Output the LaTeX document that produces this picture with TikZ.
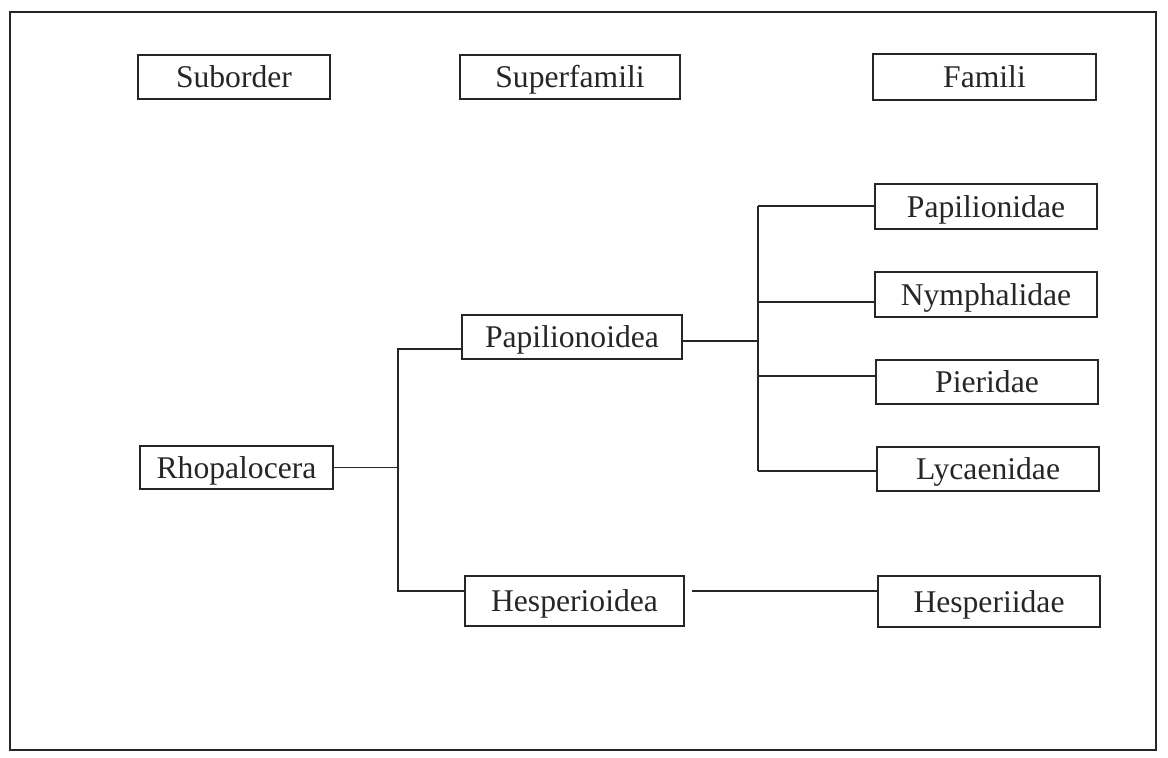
\documentclass[tikz,border=0pt]{standalone}
\usepackage{fontspec}
\setmainfont{Liberation Serif}
\usetikzlibrary{positioning}

\tikzset{
  takson/.style={draw=black!85, line width=1pt, inner sep=0pt, text=black!85,
    font=\fontsize{18}{20}\selectfont, text height=12pt, text depth=0pt},
  garis/.style={draw=black!85, line width=1pt}
}

\begin{document}
\begin{tikzpicture}[x=0.02cm,y=-0.02cm]
  \useasboundingbox (0,0) rectangle (1168,757);
  \draw[garis] (10,12) rectangle (1156,750);

  % judul kolom
  \node[takson, minimum width=3.84cm, minimum height=0.88cm] (suborder) at (234,77) {Suborder};
  \node[takson, minimum width=4.4cm, minimum height=0.88cm] (superfam) at (570,77) {Superfamili};
  \node[takson, minimum width=4.46cm, minimum height=0.92cm] (famili) at (984.5,77) {Famili};

  % suborder dan superfamili
  \node[takson, minimum width=3.86cm, minimum height=0.86cm] (rhopa) at (236.5,467.5) {Rhopalocera};
  \node[takson, minimum width=4.4cm, minimum height=0.88cm] (papoid) at (572,337) {Papilionoidea};
  \node[takson, minimum width=4.38cm, minimum height=1.0cm] (hesoid) at (574.5,601) {Hesperioidea};

  % famili
  \node[takson, minimum width=4.44cm, minimum height=0.9cm] (papid) at (986,206.5) {Papilionidae};
  \node[takson, minimum width=4.44cm, minimum height=0.9cm] (nymph) at (986,294.5) {Nymphalidae};
  \node[takson, minimum width=4.44cm, minimum height=0.88cm] (pieri) at (987,382) {Pieridae};
  \node[takson, minimum width=4.44cm, minimum height=0.88cm] (lycae) at (988,469) {Lycaenidae};
  \node[takson, minimum width=4.44cm, minimum height=1.02cm] (hesiid) at (989,601.5) {Hesperiidae};

  % percabangan
  \coordinate (kiri1) at (398,349);
  \coordinate (kiri2) at (398,591);
  \coordinate (kanan0) at (758,341);
  \coordinate (kanan1) at (758,206);
  \coordinate (kanan4) at (758,471);

  \draw[garis] (rhopa.east) -- (rhopa.east -| kiri1);
  \draw[garis] (papoid.west |- kiri1) -- (kiri1) -- (kiri2) -- (hesoid.west |- kiri2);
  \draw[garis] (papoid.east |- kanan0) -- (kanan0);
  \draw[garis] (kanan1) -- (kanan4);
  \foreach \f/\y in {papid/206, nymph/302, pieri/376, lycae/471}
    \draw[garis] (758,\y) -- (\f.west |- 0,\y);
  \draw[garis] ([xshift=4pt]hesoid.east |- kiri2) -- (hesiid.west |- kiri2);
\end{tikzpicture}
\end{document}
